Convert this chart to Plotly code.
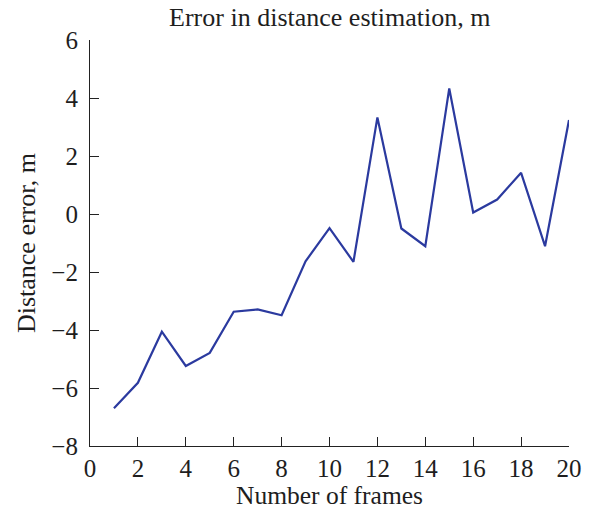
import plotly.graph_objects as go

frames = list(range(1, 21))
errors = [-6.7, -5.82, -4.06, -5.24, -4.79, -3.37, -3.29, -3.49, -1.63, -0.49,
          -1.65, 3.33, -0.5, -1.11, 4.33, 0.05, 0.5, 1.42, -1.11, 3.24]
x_ticks = list(range(0, 21, 2))
y_ticks = list(range(-8, 7, 2))

font_family = "Liberation Serif, Times New Roman, serif"
text_color = "#1e1e1e"

fig = go.Figure()
fig.add_trace(go.Scatter(x=frames, y=errors, mode="lines",
                         line=dict(color="#2b3a9f", width=2.2), showlegend=False))

fig.update_layout(
    width=592, height=510,
    margin=dict(l=90, r=23, t=40, b=64),
    paper_bgcolor="white", plot_bgcolor="white",
    font=dict(family=font_family, size=25, color=text_color),
    title=dict(text="Error in distance estimation, m", x=0.557, xanchor="center",
               y=0.966, yanchor="middle", font=dict(size=26)),
)
fig.update_xaxes(range=[0, 20], tickvals=x_ticks, ticks="inside", ticklen=9,
                 tickcolor="#222", showline=True, linecolor="#222", linewidth=1.2,
                 showgrid=False, zeroline=False, tickfont=dict(size=25),
                 ticklabelstandoff=0, automargin=False,
                 title=dict(text="Number of frames", standoff=7, font=dict(size=25.5)))
fig.update_yaxes(range=[-8, 6], tickvals=y_ticks, ticks="inside", ticklen=9,
                 tickcolor="#222", showline=True, linecolor="#222", linewidth=1.2,
                 showgrid=False, zeroline=False, tickfont=dict(size=25),
                 ticklabelstandoff=6, automargin=False,
                 title=dict(text="Distance error, m", standoff=8, font=dict(size=26)))

fig.write_html("out.html")
